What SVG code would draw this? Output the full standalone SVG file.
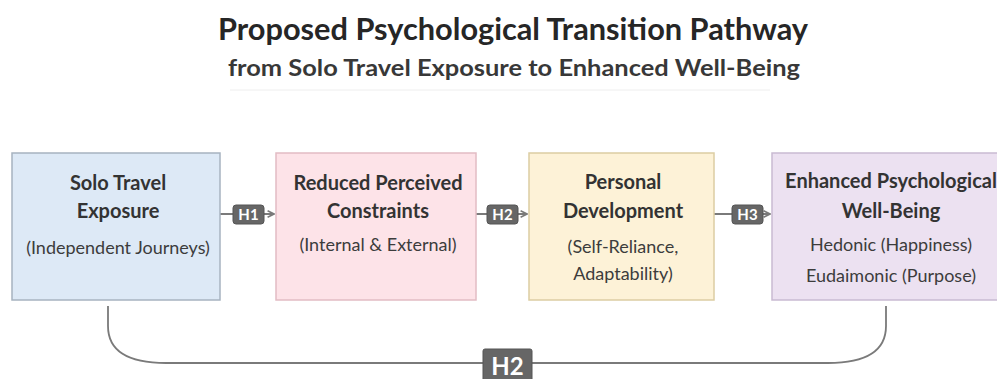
<svg xmlns="http://www.w3.org/2000/svg" width="997" height="379" viewBox="0 0 997 379">
<defs>
<style>
text{font-family:"Lato","Open Sans","Liberation Sans",sans-serif;text-anchor:middle;}
.title{font-size:30.5px;font-weight:700;fill:#262626;}
.sub{font-size:23px;font-weight:700;fill:#383838;}
.hd{font-size:20px;font-weight:700;fill:#333;}
.bd{font-size:18px;fill:#3c3c3c;}
.box{stroke-width:1.5;}
.conn{stroke:#7a7a7a;stroke-width:1.8;fill:none;}
.badge{fill:#666;stroke:#555;stroke-width:1;}
.bt{font-size:15px;font-weight:700;fill:#fff;}
.bt2{font-size:24px;font-weight:700;fill:#fff;}
</style>
<marker id="arr" viewBox="0 0 10 10" refX="9" refY="5" markerWidth="8" markerHeight="8" orient="auto" markerUnits="userSpaceOnUse">
<path d="M1,1 L9,5 L1,9" fill="none" stroke="#7a7a7a" stroke-width="2"/>
</marker>
</defs>
<rect width="997" height="379" fill="#ffffff"/>
<g id="title">
<text class="title" x="513" y="40" textLength="590" lengthAdjust="spacingAndGlyphs">Proposed Psychological Transition Pathway</text>
<text class="sub" x="514" y="76" textLength="572" lengthAdjust="spacingAndGlyphs">from Solo Travel Exposure to Enhanced Well-Being</text>
<line x1="230" y1="90" x2="770" y2="90" stroke="#eeeeee" stroke-width="1"/>
</g>
<g id="connectors">
<line class="conn" x1="220" y1="214" x2="274" y2="214" marker-end="url(#arr)"/>
<line class="conn" x1="476" y1="214" x2="527" y2="214" marker-end="url(#arr)"/>
<line class="conn" x1="714" y1="214" x2="770" y2="214" marker-end="url(#arr)"/>
<path class="conn" stroke="#666" stroke-width="2" d="M108,306 L108,326 C108,352 130,363 166,363 L828,363 C864,363 886,352 886,326 L886,306"/>
<g id="badge-h1"><rect class="badge" x="233" y="205" width="31" height="19" rx="3"/><text class="bt" x="248.5" y="220">H1</text></g>
<g id="badge-h2a"><rect class="badge" x="487" y="205" width="31" height="19" rx="3"/><text class="bt" x="502.5" y="220">H2</text></g>
<g id="badge-h3"><rect class="badge" x="732" y="205" width="31" height="19" rx="3"/><text class="bt" x="747.5" y="220">H3</text></g>
<g id="badge-h2b"><rect class="badge" x="483" y="349" width="49" height="32" rx="2"/><text class="bt2" x="507.5" y="375">H2</text></g>
</g>
<g id="node-solo">
<rect class="box" x="12" y="153" width="208" height="147" fill="#dde9f6" stroke="#a7b3c0"/>
<text class="hd" x="118" y="190">Solo Travel</text>
<text class="hd" x="118" y="218">Exposure</text>
<text class="bd" x="118" y="254">(Independent Journeys)</text>
</g>
<g id="node-constraints">
<rect class="box" x="276" y="153" width="200" height="147" fill="#fde3e8" stroke="#e2bcc4"/>
<text class="hd" x="378" y="190">Reduced Perceived</text>
<text class="hd" x="378" y="218">Constraints</text>
<text class="bd" x="378" y="251">(Internal &amp; External)</text>
</g>
<g id="node-development">
<rect class="box" x="529" y="153" width="185" height="147" fill="#fdf2d7" stroke="#dccda3"/>
<text class="hd" x="623" y="189">Personal</text>
<text class="hd" x="623" y="218">Development</text>
<text class="bd" x="623" y="253">(Self-Reliance,</text>
<text class="bd" x="623" y="280">Adaptability)</text>
</g>
<g id="node-wellbeing">
<rect class="box" x="772" y="153" width="240" height="147" fill="#ece1f1" stroke="#c9bad2"/>
<text class="hd" x="891" y="188">Enhanced Psychological</text>
<text class="hd" x="891" y="218">Well-Being</text>
<text class="bd" x="891" y="251">Hedonic (Happiness)</text>
<text class="bd" x="891" y="282">Eudaimonic (Purpose)</text>
</g>
</svg>
